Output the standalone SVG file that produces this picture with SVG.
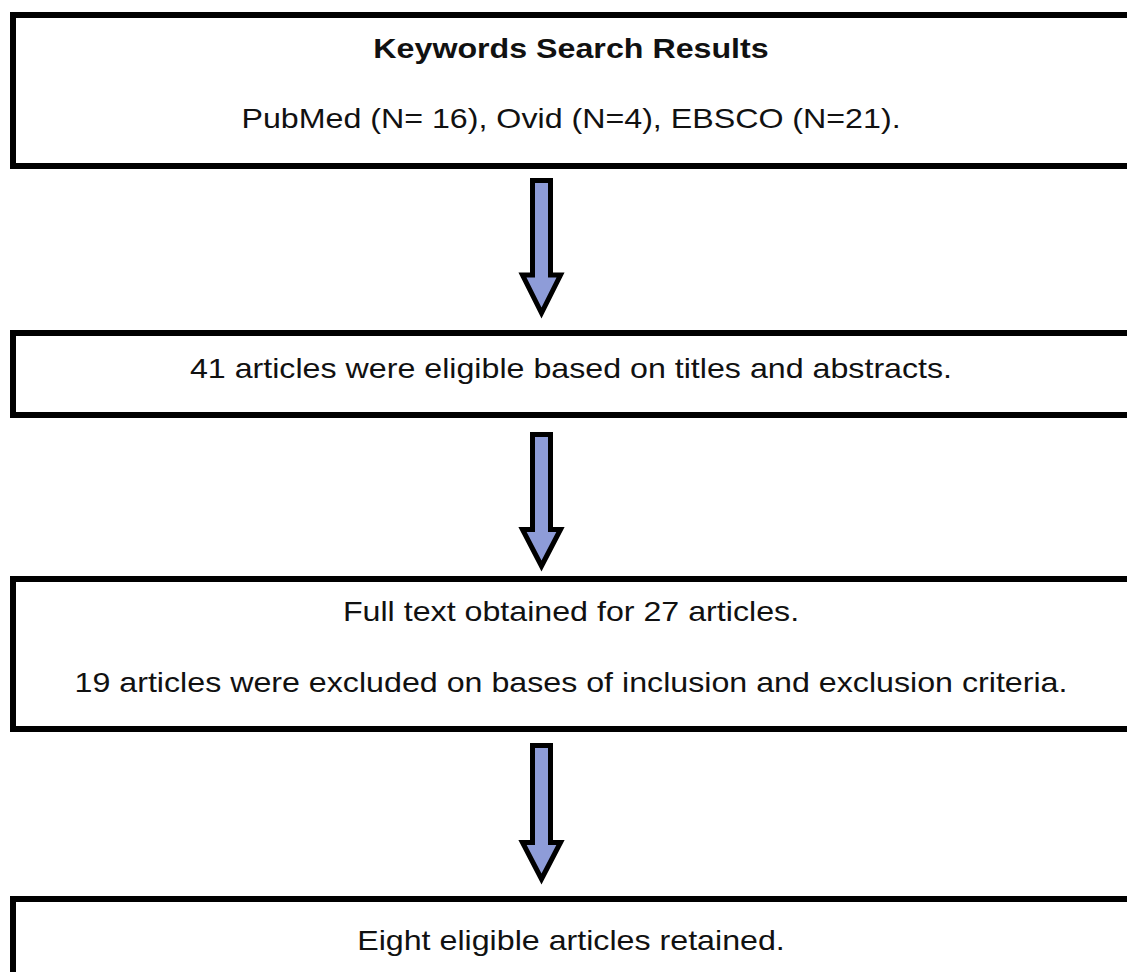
<svg xmlns="http://www.w3.org/2000/svg" width="1127" height="972" viewBox="0 0 1127 972">
<style>
.box{fill:#fff;stroke:#000;stroke-width:6}
.t{font-family:"Liberation Sans",Arial,sans-serif;font-size:28.5px;fill:#111;text-anchor:middle}
.b{font-weight:bold}
.arr{fill:#8E9CD8;stroke:#000;stroke-width:5;stroke-linejoin:miter}
</style>
<rect width="1127" height="972" fill="#fff"/>
<g id="node1">
<rect class="box" x="13" y="15" width="1130" height="151"/>
<text class="t b" transform="translate(571 58) scale(1.13 1)">Keywords Search Results</text>
<text class="t" transform="translate(571 128) scale(1.13 1)">PubMed (N= 16), Ovid (N=4), EBSCO (N=21).</text>
</g>
<g id="node2">
<rect class="box" x="13" y="333" width="1130" height="82"/>
<text class="t" transform="translate(571 378) scale(1.13 1)">41 articles were eligible based on titles and abstracts.</text>
</g>
<g id="node3">
<rect class="box" x="13" y="579" width="1130" height="150"/>
<text class="t" transform="translate(571 621) scale(1.13 1)">Full text obtained for 27 articles.</text>
<text class="t" transform="translate(571 692) scale(1.13 1)">19 articles were excluded on bases of inclusion and exclusion criteria.</text>
</g>
<g id="node4">
<rect class="box" x="13" y="899" width="1130" height="90"/>
<text class="t" transform="translate(571 950) scale(1.13 1)">Eight eligible articles retained.</text>
</g>
<g id="connectors">
<polygon class="arr" points="532.5,180.5 550.5,180.5 550.5,275 560.5,275 541.5,313 522.5,275 532.5,275"/>
<polygon class="arr" points="532.5,434.5 550.5,434.5 550.5,529.5 560.5,529.5 541.5,566 522.5,529.5 532.5,529.5"/>
<polygon class="arr" points="532.5,745.5 550.5,745.5 550.5,842.5 560.5,842.5 541.5,879 522.5,842.5 532.5,842.5"/>
</g>
</svg>
